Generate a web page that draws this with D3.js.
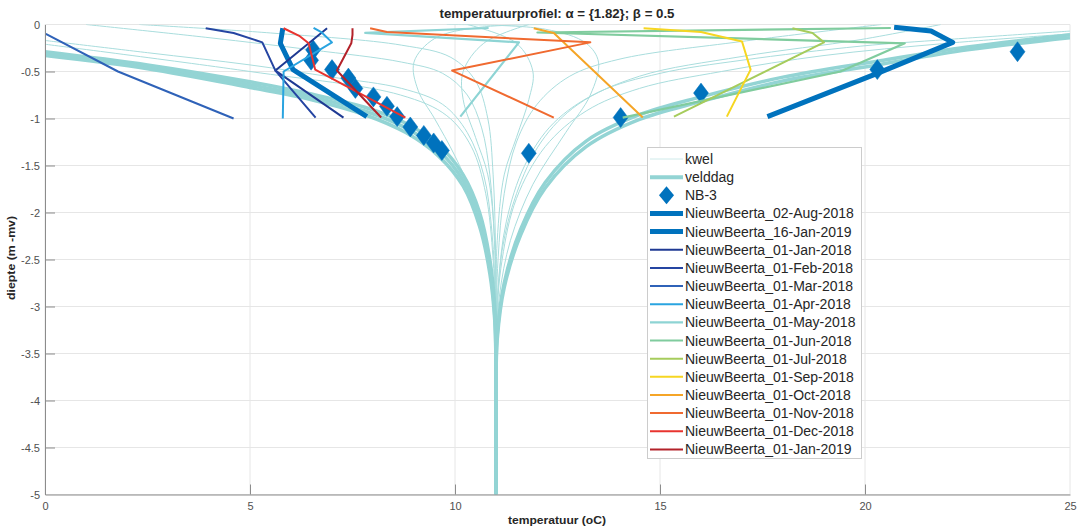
<!DOCTYPE html>
<html><head><meta charset="utf-8">
<script src="https://cdn.jsdelivr.net/npm/d3@7"></script>
<style>
body{margin:0;background:#fff}
svg{display:block}
text{font-family:"Liberation Sans",Arial,Helvetica,sans-serif}
</style>
</head><body>
<svg id="c" width="1084" height="530"></svg>
<script>
// ---------------- DATA ----------------
const xTicks = [0, 5, 10, 15, 20, 25];
const xTickLabels = ["0", "5", "10", "15", "20", "25"];
const yTicks = [0, -0.5, -1, -1.5, -2, -2.5, -3, -3.5, -4, -4.5, -5];
const yTickLabels = ["0", "-0.5", "-1", "-1.5", "-2", "-2.5", "-3", "-3.5", "-4", "-4.5", "-5"];

const titleText = "temperatuurprofiel: \u03B1 = {1.82}; \u03B2 = 0.5";
const xLabelText = "temperatuur (oC)";
const yLabelText = "diepte (m -mv)";

// thin model curves "kwel"  [temperature, depth]
const kwel1 = [[1.0,0],[4,-0.14],[6.5,-0.27],[8.7,-0.4],[9.7,-0.52],[10.3,-0.75],[10.65,-1.1],[10.85,-1.6],[10.96,-2.3],[11,-3.2],[11,-5]];
const kwel2 = [[2.3,0],[5.5,-0.09],[8.7,-0.22],[9.9,-0.35],[10.5,-0.6],[10.8,-1.0],[10.93,-1.6],[10.99,-2.4],[11,-3.2],[11,-5]];
const kwel3 = [[0,-0.17],[2.5,-0.3],[5,-0.43],[7,-0.56],[8.7,-0.68],[9.7,-0.85],[10.3,-1.15],[10.7,-1.6],[10.9,-2.2],[10.99,-3],[11,-3.6],[11,-5]];
const kwel4 = [[0,-0.21],[5,-0.5],[8.67,-0.75],[9.8,-0.97],[10.4,-1.3],[10.75,-1.8],[10.93,-2.5],[11,-3.3],[11,-5]];
const kwel5 = [[12.8,0],[10.6,-0.03],[9.5,-0.15],[9.0,-0.4],[9.1,-0.7],[9.5,-1.0],[10.0,-1.4],[10.5,-1.9],[10.85,-2.5],[11,-3.2],[11,-5]];
const kwel6 = [[9.8,0],[12.2,-0.05],[13.2,-0.2],[13.5,-0.4],[13.3,-0.75],[12.7,-1.15],[11.9,-1.7],[11.35,-2.3],[11.08,-2.9],[11,-3.5],[11,-5]];
const kwel7 = [[11.8,0],[10.7,-0.2],[10.2,-0.5],[10.2,-0.8],[10.5,-1.2],[10.8,-1.6],[10.97,-2.3],[11,-3],[11,-5]];
const kwel8 = [[10.3,0],[11.5,-0.2],[11.9,-0.5],[11.8,-0.8],[11.5,-1.2],[11.2,-1.6],[11.03,-2.3],[11,-3],[11,-5]];
const kwel9 = [[20.4,0],[17,-0.18],[14,-0.37],[12.8,-0.55],[12.0,-0.85],[11.5,-1.25],[11.2,-1.8],[11.05,-2.5],[11,-3.3],[11,-5]];
const kwel10 = [[21.85,0],[19.9,-0.16],[17,-0.34],[14.5,-0.55],[13.0,-0.85],[12.1,-1.25],[11.5,-1.8],[11.15,-2.4],[11.02,-3.1],[11,-3.6],[11,-5]];
const kwel11 = [[25,-0.07],[22,-0.16],[19.9,-0.23],[17,-0.38],[15,-0.52],[13.5,-0.72],[12.4,-1.05],[11.7,-1.5],[11.25,-2.1],[11.05,-2.8],[11,-3.5],[11,-5]];
const kwel12 = [[25,-0.1],[22,-0.2],[19,-0.33],[16.5,-0.5],[14.5,-0.68],[13.2,-0.92],[12.2,-1.3],[11.5,-1.85],[11.15,-2.5],[11,-3.3],[11,-5]];
const kwelCurves = [kwel1,kwel2,kwel3,kwel4,kwel5,kwel6,kwel7,kwel8,kwel9,kwel10,kwel11,kwel12];

// thick model curves "velddag"
const velddagL1 = [[0,-0.29],[2.5,-0.43],[5,-0.61],[6.5,-0.74],[7.8,-0.88],[8.8,-1.05],[9.6,-1.28],[10.2,-1.6],[10.6,-2.0],[10.85,-2.5],[10.97,-3.0],[11,-3.5],[11,-5]];
const velddagL2 = [[0,-0.31],[2.5,-0.45],[5,-0.64],[6.5,-0.77],[7.8,-0.92],[8.8,-1.1],[9.6,-1.34],[10.2,-1.66],[10.6,-2.08],[10.85,-2.58],[10.97,-3.1],[11,-3.6],[11,-5]];
const velddagL3 = [[0,-0.33],[2.5,-0.47],[5,-0.67],[6.5,-0.8],[7.8,-0.96],[8.8,-1.15],[9.6,-1.4],[10.2,-1.72],[10.6,-2.15],[10.85,-2.65],[10.97,-3.15],[11,-3.7],[11,-5]];
const velddagR1 = [[25,-0.11],[22.5,-0.24],[20.3,-0.39],[18,-0.56],[16,-0.77],[14.5,-0.96],[13.2,-1.24],[12.2,-1.68],[11.6,-2.18],[11.2,-2.75],[11.03,-3.3],[11,-3.8],[11,-5]];
const velddagR2 = [[25,-0.14],[22.5,-0.27],[20.3,-0.43],[18,-0.6],[16,-0.82],[14.5,-1.01],[13.2,-1.3],[12.2,-1.74],[11.6,-2.24],[11.2,-2.8],[11.03,-3.35],[11,-3.9],[11,-5]];
const velddagCurves = [velddagL1,velddagL2,velddagL3,velddagR1,velddagR2];

// NB-3 measurements
const nb3 = [[6.54,-0.27],[6.49,-0.38],[7.0,-0.48],[7.40,-0.57],[7.57,-0.68],[8.01,-0.77],[8.34,-0.87],[8.59,-0.98],[8.91,-1.09],[9.24,-1.18],[9.48,-1.26],[9.68,-1.34],[11.8,-1.37],[14.04,-0.99],[16.0,-0.73],[20.3,-0.48],[23.72,-0.29]];

// NieuwBeerta measured profiles
const aug2018 = [[20.71,-0.03],[21.61,-0.07],[22.14,-0.19],[20.3,-0.52],[17.62,-0.98]];
const jan2019b = [[5.8,-0.04],[5.74,-0.2],[6.05,-0.48],[7.85,-0.98]];
const jan2018 = [[6.88,-0.04],[5.62,-0.49],[7.28,-0.99]];
const feb2018 = [[3.92,-0.04],[4.6,-0.09],[5.3,-0.19],[5.62,-0.49],[6.6,-0.99]];
const mar2018 = [[0.02,-0.1],[1.78,-0.5],[4.6,-1.0]];
const apr2018 = [[6.55,-0.035],[6.75,-0.085],[7.0,-0.19],[5.82,-0.5],[5.8,-1.0]];
const may2018 = [[10.82,-0.037],[7.81,-0.09],[11.56,-0.19],[10.13,-0.98]];
const jun2018 = [[20.63,-0.037],[12.01,-0.085],[20.97,-0.2],[19.4,-0.5],[14.09,-0.99]];
const jul2018 = [[18.23,-0.04],[18.72,-0.09],[19.0,-0.19],[15.34,-0.98]];
const sep2018 = [[14.6,-0.04],[16.0,-0.08],[17.0,-0.18],[17.21,-0.48],[16.63,-0.98]];
const oct2018 = [[11.92,-0.04],[12.41,-0.09],[14.58,-0.99]];
const nov2018 = [[7.93,-0.04],[8.34,-0.08],[13.3,-0.19],[9.93,-0.49],[12.41,-0.99]];
const dec2018 = [[5.82,-0.04],[6.2,-0.12],[6.43,-0.2],[6.59,-0.48],[8.79,-0.99]];
const jan2019 = [[7.5,-0.04],[7.5,-0.11],[7.47,-0.2],[7.12,-0.49],[8.2,-0.99]];

const seriesNames = ["NieuwBeerta_02-Aug-2018","NieuwBeerta_16-Jan-2019","NieuwBeerta_01-Jan-2018","NieuwBeerta_01-Feb-2018",
  "NieuwBeerta_01-Mar-2018","NieuwBeerta_01-Apr-2018","NieuwBeerta_01-May-2018","NieuwBeerta_01-Jun-2018",
  "NieuwBeerta_01-Jul-2018","NieuwBeerta_01-Sep-2018","NieuwBeerta_01-Oct-2018","NieuwBeerta_01-Nov-2018",
  "NieuwBeerta_01-Dec-2018","NieuwBeerta_01-Jan-2019"];
const seriesData = [aug2018,jan2019b,jan2018,feb2018,mar2018,apr2018,may2018,jun2018,jul2018,sep2018,oct2018,nov2018,dec2018,jan2019];

// ---------------- STYLE ----------------
const seriesColors = ["#0072bd","#0072bd","#1f3a93","#2545a2","#2f62b8","#2aa4e0","#8ed4d4","#80cc9e","#a6cc5c","#f6d622","#f5a527","#f06a30","#e8342f","#b3222a"];
const seriesWidths = [5,5,2,2,2,2,2.2,2.2,2,2,2,2,2,2];
const kwelColor = "#a9dddd", velddagColor = "#93d4d4", nbColor = "#0072bd";

const W = 1084, H = 530;
const m = {l:45, r:14, t:24.5, b:35.5};
const x = d3.scaleLinear().domain([0,25]).range([m.l, W - m.r]);
const y = d3.scaleLinear().domain([-5,0]).range([H - m.b, m.t]);
const svg = d3.select("#c");

// grid
const grid = svg.append("g");
grid.selectAll("line.gx").data(xTicks).join("line")
  .attr("x1", d => x(d)).attr("x2", d => x(d)).attr("y1", y(0)).attr("y2", y(-5))
  .attr("stroke", "#e6e6e6").attr("stroke-width", 1);
grid.selectAll("line.gy").data(yTicks).join("line")
  .attr("y1", d => y(d)).attr("y2", d => y(d)).attr("x1", x(0)).attr("x2", x(25))
  .attr("stroke", "#e6e6e6").attr("stroke-width", 1);

svg.append("clipPath").attr("id", "clip").append("rect")
  .attr("x", x(0)).attr("y", y(0)).attr("width", x(25) - x(0)).attr("height", y(-5) - y(0));
const plot = svg.append("g").attr("clip-path", "url(#clip)");

const smooth = d3.line().x(d => x(d[0])).y(d => y(d[1])).curve(d3.curveCatmullRom.alpha(0.5));
const straight = d3.line().x(d => x(d[0])).y(d => y(d[1]));

plot.selectAll("path.kwel").data(kwelCurves).join("path")
  .attr("d", smooth).attr("fill", "none").attr("stroke", kwelColor).attr("stroke-width", 1);
plot.selectAll("path.vd").data(velddagCurves).join("path")
  .attr("d", smooth).attr("fill", "none").attr("stroke", velddagColor).attr("stroke-width", 3.5)
  .attr("stroke-linejoin", "round");

const diamond = "M0,-10L7.5,0L0,10L-7.5,0Z";
plot.selectAll("path.nb").data(nb3).join("path")
  .attr("d", diamond).attr("transform", d => `translate(${x(d[0])},${y(d[1])})`)
  .attr("fill", nbColor).attr("stroke", nbColor).attr("stroke-width", 0.5);

plot.selectAll("path.ser").data(seriesData).join("path")
  .attr("d", straight).attr("fill", "none")
  .attr("stroke", (d, i) => seriesColors[i]).attr("stroke-width", (d, i) => seriesWidths[i])
  .attr("stroke-linejoin", "round").attr("stroke-linecap", "butt");

// axes
const axColor = "#8c8c8c", lblColor = "#505050";
const gx = svg.append("g").attr("transform", `translate(0,${y(-5)})`)
  .call(d3.axisBottom(x).tickValues(xTicks).tickFormat((d, i) => xTickLabels[i])
    .tickSizeInner(-10).tickSizeOuter(0).tickPadding(8));
const gy = svg.append("g").attr("transform", `translate(${x(0)},0)`)
  .call(d3.axisLeft(y).tickValues(yTicks).tickFormat((d, i) => yTickLabels[i])
    .tickSizeInner(-10).tickSizeOuter(0).tickPadding(5));
[gx, gy].forEach(g => {
  g.select(".domain").attr("stroke", axColor);
  g.selectAll(".tick line").attr("stroke", axColor);
  g.selectAll(".tick text").attr("fill", lblColor).attr("font-size", 11)
    .attr("font-family", "'Liberation Sans',Arial,sans-serif");
});
gx.selectAll(".tick").filter(d => d === 0 || d === 25).select("line").remove();
gy.selectAll(".tick").filter(d => d === 0 || d === -5).select("line").remove();

// titles
svg.append("text").attr("x", 557).attr("y", 18).attr("text-anchor", "middle")
  .attr("font-size", 12).attr("font-weight", "bold").attr("fill", "#262626")
  .attr("textLength", 235).attr("lengthAdjust", "spacingAndGlyphs").text(titleText);
svg.append("text").attr("x", 557).attr("y", 524).attr("text-anchor", "middle")
  .attr("font-size", 11.5).attr("font-weight", "bold").attr("fill", "#262626")
  .attr("textLength", 98).attr("lengthAdjust", "spacingAndGlyphs").text(xLabelText);
svg.append("text").attr("transform", "translate(15,258) rotate(-90)").attr("text-anchor", "middle")
  .attr("font-size", 11.5).attr("font-weight", "bold").attr("fill", "#262626")
  .attr("textLength", 84).attr("lengthAdjust", "spacingAndGlyphs").text(yLabelText);

// legend
const legendLabels = ["kwel", "velddag", "NB-3"].concat(seriesNames);
const legendKinds = ["line", "line", "diamond"].concat(seriesNames.map(() => "line"));
const legendColors = ["#cfeaea", velddagColor, nbColor].concat(seriesColors);
const legendWidths = [1, 4, 0].concat(seriesWidths);
const lg = svg.append("g");
lg.append("rect").attr("x", 647.5).attr("y", 147.5).attr("width", 214).attr("height", 311)
  .attr("fill", "#fff").attr("stroke", "#cccccc").attr("stroke-width", 1);
const rowY = i => 159 + i * 18.15;
legendLabels.forEach((lab, i) => {
  const yy = rowY(i);
  if (legendKinds[i] === "line") {
    lg.append("line").attr("x1", 650).attr("x2", 683).attr("y1", yy).attr("y2", yy)
      .attr("stroke", legendColors[i]).attr("stroke-width", legendWidths[i]);
  } else {
    lg.append("path").attr("d", "M0,-9L7.5,0L0,9L-7.5,0Z")
      .attr("transform", `translate(666.5,${yy})`).attr("fill", nbColor);
  }
  lg.append("text").attr("x", 685).attr("y", yy + 5).attr("font-size", 14)
    .attr("fill", "#262626").text(lab);
});
</script>
</body></html>
